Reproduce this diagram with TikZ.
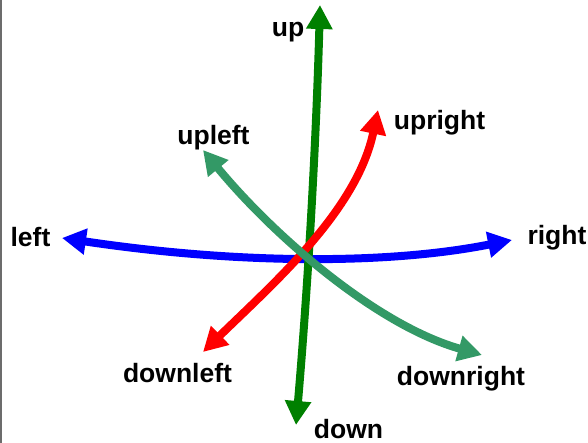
\documentclass[tikz,border=0pt]{standalone}
\usepackage{fontspec}
\setmainfont{Liberation Sans}
\usetikzlibrary{arrows.meta}
\definecolor{myblue}{RGB}{0,0,255}
\definecolor{mygreen}{RGB}{0,128,0}
\definecolor{myred}{RGB}{255,0,0}
\definecolor{myteal}{RGB}{51,153,102}
\tikzset{
  tipshape/.tip={Triangle[length=24pt,width=25pt]},
  arr/.style={line width=8pt, tipshape-tipshape},
  lbl/.style={anchor=base, inner sep=0pt, font=\fontsize{26.5}{30}\selectfont\bfseries}
}
\begin{document}
\begin{tikzpicture}[x=1pt,y=-1pt]
\useasboundingbox (0,0) rectangle (588,443);
\fill[white] (0,0) rectangle (588,443);
\coordinate (bt) at (1,0);
\coordinate (bb) at (1,443);
\draw[gray!85!black, line width=2pt] (bt) -- (bb);
% tips
\coordinate (L) at (62,238);
\coordinate (R) at (512,240);
\coordinate (U) at (320,5);
\coordinate (D) at (296,425);
\coordinate (UR) at (378,110);
\coordinate (DL) at (203,352);
\coordinate (UL) at (203,150);
\coordinate (DR) at (482,355);
% connectors
\draw[arr, myblue] (L) .. controls (236,264) and (386,265) .. (R);
\draw[arr, mygreen] (D) .. controls (308,285) and (316,145) .. (U);
\draw[arr, myred] (DL) .. controls (275,282) and (357,210) .. (UR);
\draw[arr, myteal] (UL) .. controls (273,235) and (376,325) .. (DR);
% labels
\node[lbl] (tup) at (288,37) {up};
\node[lbl] (tleft) at (30.5,247) {left};
\node[lbl] (tright) at (557,245) {right};
\node[lbl] (tupleft) at (213.5,145) {upleft};
\node[lbl] (tupright) at (439.5,130) {upright};
\node[lbl] (tdownleft) at (177.5,382) {downleft};
\node[lbl] (tdown) at (348.5,438) {down};
\node[lbl] (tdownright) at (461,385) {downright};
\end{tikzpicture}
\end{document}
